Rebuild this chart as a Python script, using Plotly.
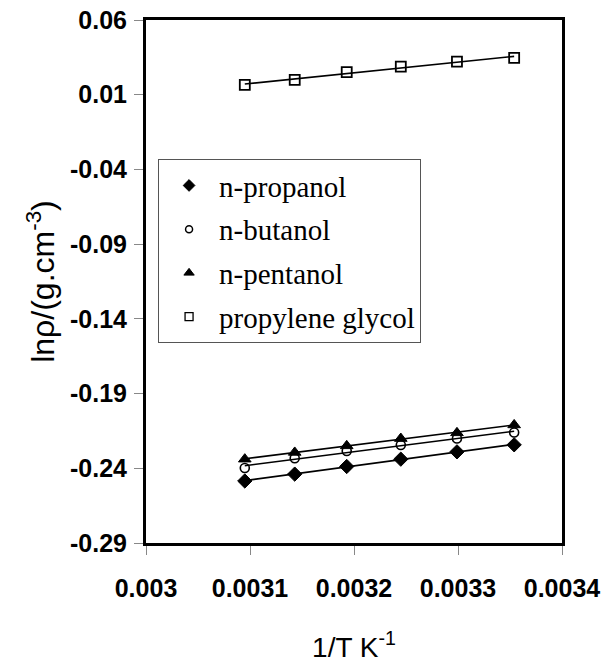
import plotly.graph_objects as go
import numpy as np

# 1/T values (K^-1)
inv_T = [0.003095, 0.003143, 0.003193, 0.003245, 0.003299, 0.003354]

propanol = [-0.2485, -0.2439, -0.2388, -0.2339, -0.2290, -0.2243]
butanol = [-0.2398, -0.2333, -0.2284, -0.2244, -0.2201, -0.2161]
pentanol = [-0.2339, -0.2294, -0.2250, -0.2201, -0.2163, -0.2110]
glycol = [0.0166, 0.0199, 0.0251, 0.0288, 0.0321, 0.0346]

series_names = ["n-propanol", "n-butanol", "n-pentanol", "propylene glycol"]
x_ticks = [0.003, 0.0031, 0.0032, 0.0033, 0.0034]
x_ticklabels = ["0.003", "0.0031", "0.0032", "0.0033", "0.0034"]
y_ticks = [0.06, 0.01, -0.04, -0.09, -0.14, -0.19, -0.24, -0.29]
y_ticklabels = ["0.06", "0.01", "-0.04", "-0.09", "-0.14", "-0.19", "-0.24", "-0.29"]

styles = [
    dict(symbol="diamond", size=11, color="black", line=dict(color="black", width=1)),
    dict(symbol="circle-open", size=9, color="black", line=dict(color="black", width=1.6)),
    dict(symbol="triangle-up", size=11, color="black", line=dict(color="black", width=1)),
    dict(symbol="square-open", size=10, color="black", line=dict(color="black", width=1.8)),
]
legend_styles = [
    dict(symbol="diamond", size=9, color="black", line=dict(color="black", width=1)),
    dict(symbol="circle-open", size=7, color="black", line=dict(color="black", width=1.5)),
    dict(symbol="triangle-up", size=9, color="black", line=dict(color="black", width=1)),
    dict(symbol="square-open", size=8, color="black", line=dict(color="black", width=1.3)),
]

fig = go.Figure()
xs = np.array(inv_T)
all_series = [propanol, butanol, pentanol, glycol]
for name, ys in zip(series_names, all_series):
    k, b = np.polyfit(xs, np.array(ys), 1)
    xl = np.array([xs.min(), xs.max()])
    fig.add_trace(go.Scatter(x=xl, y=k * xl + b, mode="lines",
                             line=dict(color="black", width=1.6),
                             showlegend=False, hoverinfo="skip"))
for name, ys, st in zip(series_names, all_series, styles):
    fig.add_trace(go.Scatter(x=inv_T, y=ys, mode="markers", name=name,
                             showlegend=False, marker=st))
for i, (name, st) in enumerate(zip(series_names, legend_styles)):
    fig.add_trace(go.Scatter(x=[None], y=[None], mode="markers", name=name,
                             legendgroup=f"g{i}", marker=st))

tickfont = dict(family="Liberation Sans, Arial", size=25, color="black", weight="bold")
titlefont = dict(family="Liberation Sans, Arial", size=28, color="black")

fig.update_layout(
    width=610, height=667,
    margin=dict(l=146, r=48, t=20, b=124),
    paper_bgcolor="white", plot_bgcolor="white",
    showlegend=True,
    legend=dict(
        x=0.029, y=0.734, xanchor="left", yanchor="top",
        font=dict(family="Liberation Serif, Times New Roman", size=29, color="black"),
        bordercolor="#555", borderwidth=1, bgcolor="white",
        traceorder="grouped", tracegroupgap=3, itemwidth=50,
    ),
    xaxis=dict(
        range=[0.003, 0.0034], tickvals=x_ticks, ticktext=x_ticklabels,
        showgrid=False, zeroline=False,
        showline=True, mirror=True, linecolor="black", linewidth=3,
        ticks="outside", ticklen=9, tickcolor="#888", tickwidth=1,
        tickfont=tickfont, ticklabelstandoff=12,
        title=dict(text="1/T K<sup>-1</sup>", font=titlefont, standoff=37),
        automargin=False,
    ),
    yaxis=dict(
        range=[-0.29, 0.06], tickvals=y_ticks, ticktext=y_ticklabels,
        showgrid=False, zeroline=False,
        showline=True, mirror=True, linecolor="black", linewidth=3,
        ticks="outside", ticklen=9, tickcolor="#888", tickwidth=1,
        tickfont=tickfont, ticklabelstandoff=2,
        title=dict(text="lnρ/(g.cm<sup>-3</sup>)",
                   font=dict(family="Liberation Sans, Arial", size=32, color="black"),
                   standoff=6),
        automargin=False,
    ),
)

fig.write_html("out.html")
